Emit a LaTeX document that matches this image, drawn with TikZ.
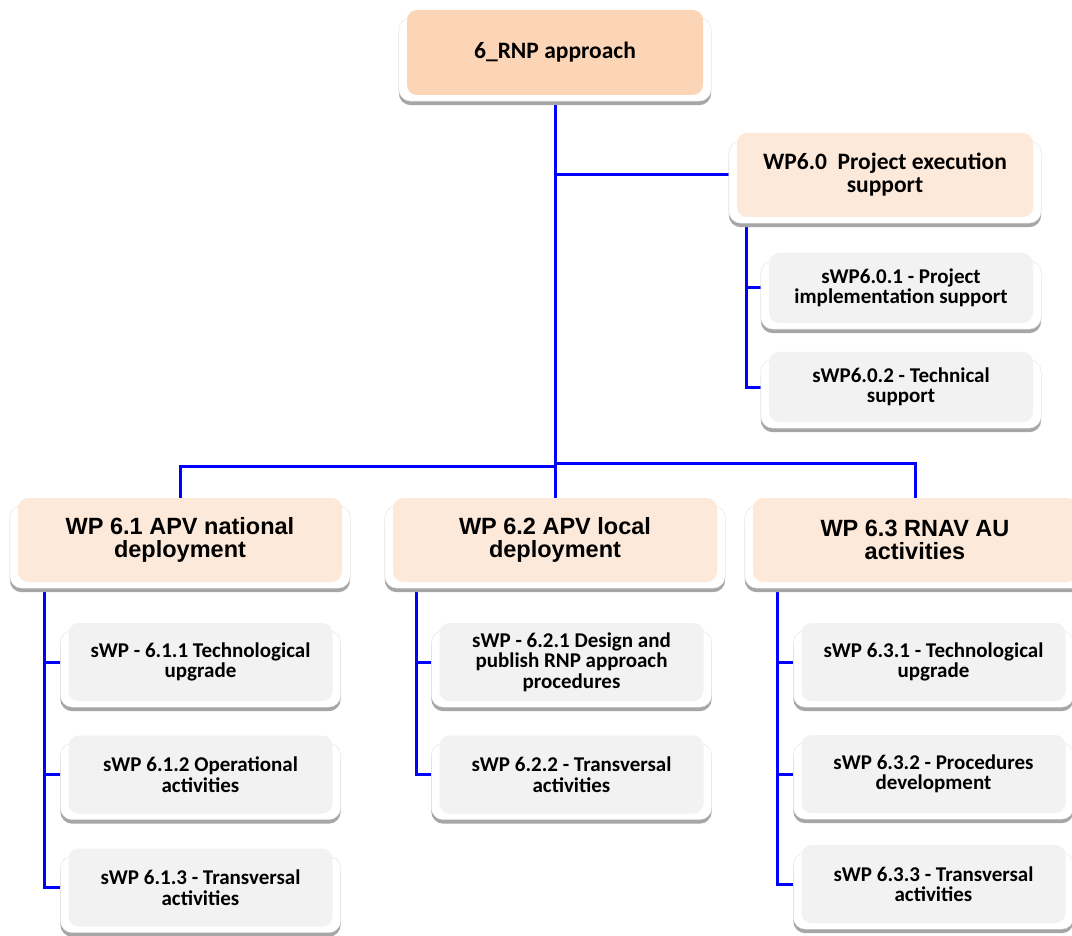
\documentclass[tikz,border=0pt]{standalone}
\usepackage{fontspec}
\setmainfont{Carlito}
\newfontfamily\arialfont{Liberation Sans}
\usepackage{tikz}
\usetikzlibrary{backgrounds}
\definecolor{peach}{HTML}{FBD5B5}
\definecolor{lightpeach}{HTML}{FDE9D9}
\definecolor{subgray}{HTML}{F2F2F2}
\definecolor{shadowgray}{HTML}{A6A6A6}
\definecolor{linkblue}{HTML}{0000FF}

\begin{document}
\begin{tikzpicture}[x=1pt,y=-1pt,
				box/.style={rounded corners=10pt,inner sep=0pt,align=center},
				top node/.style={box,fill=peach,minimum width=296pt,minimum height=85pt,
					font=\fontsize{23.5}{23}\selectfont\bfseries},
				exec node/.style={box,fill=lightpeach,minimum width=296pt,minimum height=84pt,
					font=\fontsize{23.5}{23}\selectfont\bfseries},
				wp node/.style={box,fill=lightpeach,minimum width=324pt,minimum height=84pt,
					font=\arialfont\fontsize{23.5}{23}\selectfont\bfseries},
				sub node/.style={box,fill=subgray,minimum width=264pt,minimum height=78pt,
					font=\fontsize{21}{20.5}\selectfont\bfseries},
				link/.style={draw=linkblue,line width=3pt}]
				
				\useasboundingbox (0,0) rectangle (1072,936);
				
				\node[top node] (top) at (555,52.5) {6\_RNP approach};
				\node[exec node] (wp0) at (885,175) {WP6.0~~Project execution\\support};
				\node[sub node,minimum height=70pt] (s01) at (901,288) {sWP6.0.1 - Project\\implementation support};
				\node[sub node,minimum height=70pt] (s02) at (901,387) {sWP6.0.2 - Technical\\support};
				
				\node[wp node] (wp1) at (180,540) {WP 6.1 APV national\\deployment};
				\node[wp node] (wp2) at (555,540) {WP 6.2 APV local\\deployment};
				\node[wp node] (wp3) at (915,540) {WP 6.3 RNAV AU\\activities};
				
				\node[sub node] (s11) at (200.5,662) {sWP - 6.1.1 Technological\\upgrade};
				\node[sub node] (s12) at (200.5,774.5) {sWP 6.1.2 Operational\\activities};
				\node[sub node] (s13) at (200.5,887.5) {sWP 6.1.3 - Transversal\\activities};
				
				\node[sub node] (s21) at (571.5,662) {sWP - 6.2.1 Design and\\publish RNP approach\\procedures};
				\node[sub node] (s22) at (571.5,774.5) {sWP 6.2.2 - Transversal\\activities};
				
				\node[sub node] (s31) at (933.5,662) {sWP 6.3.1 - Technological\\upgrade};
				\node[sub node] (s32) at (933.5,774) {sWP 6.3.2 - Procedures\\development};
				\node[sub node] (s33) at (933.5,884) {sWP 6.3.3 - Transversal\\activities};
				
				\coordinate (busL) at (555,466);
				\coordinate (busR) at (555,463);
				
				\begin{scope}[on background layer]
					\path[link] (top.south) -- (wp2.north)
					(top.south |- wp0.west) -- (wp0.west)
					(wp1.north) |- (busL)
					(wp3.north) |- (busR);
					\foreach \s in {s01,s02}
					\path[link] ([xshift=10pt]wp0.south west) |- (\s.west);
					\foreach \s in {s11,s12,s13}
					\path[link] ([xshift=27pt]wp1.south west) |- (\s.west);
					\foreach \s in {s21,s22}
					\path[link] ([xshift=24pt]wp2.south west) |- (\s.west);
					\foreach \s in {s31,s32,s33}
					\path[link] ([xshift=25pt]wp3.south west) |- (\s.west);
					
					\foreach \n in {top,wp0,s01,s02,wp1,wp2,wp3,s11,s12,s13,s21,s22,s31,s32,s33}{
						\fill[shadowgray,rounded corners=12pt] ([xshift=-8pt,yshift=-10pt]\n.south west)
						rectangle ([xshift=8pt,yshift=-13pt]\n.north east);
						\filldraw[fill=white,draw=black!12,rounded corners=12pt] ([xshift=-8pt,yshift=-6pt]\n.south west)
						rectangle ([xshift=8pt,yshift=-8pt]\n.north east);
					}
				\end{scope}
			\end{tikzpicture}
\end{document}
